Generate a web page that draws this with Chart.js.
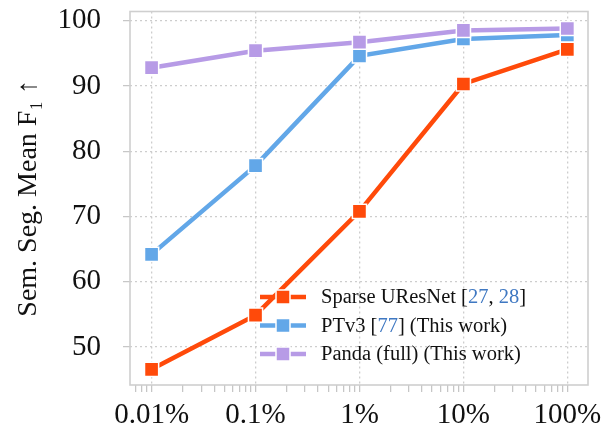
<!DOCTYPE html>
<html>
<head>
<meta charset="utf-8">
<script src="https://cdn.jsdelivr.net/npm/chart.js@4.4.1/dist/chart.umd.min.js"></script>
<style>
  html, body { margin: 0; padding: 0; background: #fff; }
  #wrap { width: 604px; height: 430px; position: relative; }
</style>
</head>
<body>
<div id="wrap"><canvas id="c" width="604" height="430"></canvas></div>
<script>
// ---- data ----
const fractions = [0.01, 0.1, 1, 10, 100];            // % of training data
const xTickLabels = ['0.01%', '0.1%', '1%', '10%', '100%'];
const yTicks = [50, 60, 70, 80, 90, 100];
const sparseUResNet = [46.6, 54.9, 70.8, 90.3, 95.6];
const ptv3 = [64.2, 77.8, 94.6, 97.2, 97.8];
const pandaFull = [92.8, 95.4, 96.7, 98.5, 98.8];
const seriesNames = ['Sparse UResNet', 'PTv3', 'Panda (full)'];
// legend text parts: [text, isCitation]
const legendParts = [
  [['Sparse UResNet [', false], ['27', true], [', ', false], ['28', true], [']', false]],
  [['PTv3 [', false], ['77', true], ['] (This work)', false]],
  [['Panda (full) (This work)', false]]
];

const RED = '#FF4A0A', BLUE = '#62A7E8', PURPLE = '#B79BE6';
const SERIF = '"Liberation Serif", "DejaVu Serif", serif';

function pts(vals) { return fractions.map((x, i) => ({ x: x, y: vals[i] })); }

function isMajor(v) { const l = Math.log10(v); return Math.abs(l - Math.round(l)) < 1e-6; }

// minor + major x ticks for log axis
const xTickValues = [];
for (let e = -3; e <= 2; e++) {
  for (let m = 1; m <= 9; m++) {
    const v = +(m * Math.pow(10, e)).toPrecision(6);
    if (v >= 0.0065 && v <= 150) xTickValues.push(v);
  }
}

const framePlugin = {
  id: 'frame',
  beforeDatasetsDraw(chart) {
    const a = chart.chartArea, ctx = chart.ctx;
    ctx.save();
    ctx.strokeStyle = '#cfcfcf';
    ctx.lineWidth = 1.6;
    ctx.strokeRect(a.left, a.top, a.right - a.left, a.bottom - a.top);
    ctx.restore();
  }
};

const legendPlugin = {
  id: 'customLegend',
  afterDatasetsDraw(chart) {
    const ctx = chart.ctx;
    const colors = [RED, BLUE, PURPLE];
    const x0 = 260, x1 = 306, tx = 321;
    const ys = [297, 325.5, 354];
    ctx.save();
    ctx.font = '20.5px ' + SERIF;
    ctx.textBaseline = 'middle';
    for (let i = 0; i < 3; i++) {
      const y = ys[i];
      ctx.strokeStyle = colors[i];
      ctx.lineWidth = 4.5;
      ctx.beginPath(); ctx.moveTo(x0, y); ctx.lineTo(x1, y); ctx.stroke();
      const cx = (x0 + x1) / 2, s = 14;
      ctx.fillStyle = colors[i];
      ctx.strokeStyle = '#ffffff';
      ctx.lineWidth = 1.5;
      ctx.fillRect(cx - s / 2, y - s / 2, s, s);
      ctx.strokeRect(cx - s / 2, y - s / 2, s, s);
      let x = tx;
      for (const [t, cite] of legendParts[i]) {
        ctx.fillStyle = cite ? '#3f78c2' : '#111111';
        ctx.fillText(t, x, y + 1);
        x += ctx.measureText(t).width;
      }
    }
    ctx.restore();
  }
};

function ds(label, vals, color, order) {
  return {
    label: label,
    data: pts(vals),
    borderColor: color,
    backgroundColor: color,
    borderWidth: 4.5,
    pointStyle: 'rect',
    pointRadius: 10,
    pointHoverRadius: 10,
    pointBorderColor: '#ffffff',
    pointBorderWidth: 1.5,
    pointBackgroundColor: color,
    tension: 0,
    order: order
  };
}

new Chart(document.getElementById('c'), {
  type: 'line',
  data: {
    datasets: [
      ds(seriesNames[0], sparseUResNet, RED, 2),
      ds(seriesNames[1], ptv3, BLUE, 1),
      ds(seriesNames[2], pandaFull, PURPLE, 0)
    ]
  },
  options: {
    responsive: false,
    animation: false,
    devicePixelRatio: 1,
    layout: { padding: { top: 10, right: 16, left: 0, bottom: 0 } },
    plugins: { legend: { display: false }, tooltip: { enabled: false } },
    scales: {
      x: {
        type: 'logarithmic',
        min: 0.0062,
        max: 158,
        afterBuildTicks(axis) { axis.ticks = xTickValues.map(v => ({ value: v, major: isMajor(v) })); },
        afterFit(axis) { axis.height = 45; axis.paddingLeft = 0; axis.paddingRight = 0; axis.paddingTop = 0; axis.paddingBottom = 0; },
        ticks: {
          autoSkip: false,
          maxRotation: 0,
          minRotation: 0,
          padding: 6,
          color: '#111',
          font: { family: SERIF, size: 29 },
          callback(v) {
            const i = fractions.findIndex(f => Math.abs(f - v) / f < 1e-6);
            return i >= 0 ? xTickLabels[i] : '';
          }
        },
        grid: {
          color: c => (c.tick && isMajor(c.tick.value)) ? '#cdcdcd' : 'rgba(0,0,0,0)',
          lineWidth: 1.3,
          tickColor: '#c4c4c4',
          tickLength: 7,
          tickWidth: 1.2
        },
        border: { display: false, dash: [2, 3] }
      },
      y: {
        type: 'linear',
        min: 44.2,
        max: 101.4,
        afterBuildTicks(axis) { axis.ticks = yTicks.map(v => ({ value: v })); },
        afterFit(axis) { axis.width = 130; axis.paddingTop = 0; axis.paddingBottom = 0; axis.paddingLeft = 0; axis.paddingRight = 0; },
        ticks: {
          padding: 22,
          color: '#111',
          font: { family: SERIF, size: 29 }
        },
        grid: {
          color: '#cdcdcd',
          lineWidth: 1.3,
          tickColor: '#c4c4c4',
          tickLength: 7,
          tickWidth: 1.2
        },
        border: { display: false, dash: [2, 3] },
        title: {
          display: true,
          text: 'Sem. Seg. Mean F₁ ↑',
          color: '#111',
          font: { family: SERIF, size: 28 },
          padding: { top: 12, bottom: 0 }
        }
      }
    }
  },
  plugins: [framePlugin, legendPlugin]
});
</script>
</body>
</html>
